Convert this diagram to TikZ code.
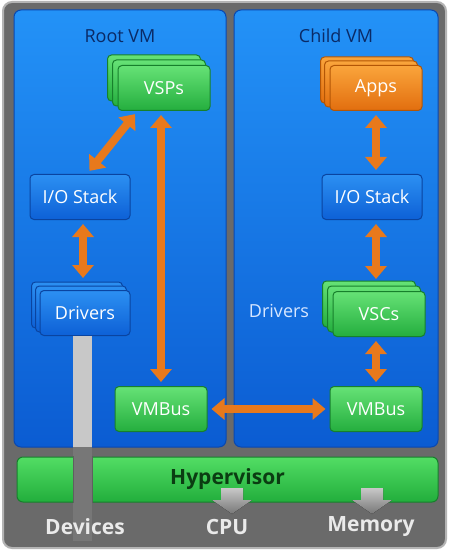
\documentclass[tikz,border=0pt]{standalone}
\usepackage{fontspec}
\setmainfont{Open Sans}
\usetikzlibrary{arrows.meta,calc}
\definecolor{frameg}{HTML}{6A6A6A}
\definecolor{framerim}{HTML}{B4B4B4}
\definecolor{panelT}{HTML}{2392F7}
\definecolor{panelB}{HTML}{0B5CD2}
\definecolor{panelD}{HTML}{0A48B0}
\definecolor{boxbT}{HTML}{2C90F2}
\definecolor{boxbB}{HTML}{0D60D6}
\definecolor{boxbD}{HTML}{0A44A0}
\definecolor{grT}{HTML}{66E276}
\definecolor{grB}{HTML}{24AE3E}
\definecolor{grD}{HTML}{17802C}
\definecolor{orT}{HTML}{FAA53C}
\definecolor{orB}{HTML}{E26E0E}
\definecolor{orD}{HTML}{B35606}
\definecolor{arrowO}{HTML}{E8791C}
\definecolor{navy}{HTML}{0A2A66}
\definecolor{hyperT}{HTML}{52DD64}
\definecolor{hyperB}{HTML}{22AE3C}
\definecolor{hyperTxt}{HTML}{0B3D12}
\definecolor{pipeL}{HTML}{C8C8C8}
\definecolor{pipeD}{HTML}{777777}
\definecolor{lighttxt}{HTML}{EAEAEA}
\definecolor{drvtxt}{HTML}{D6E6FF}
\pgfdeclarelayer{bg}
\pgfdeclarelayer{mid}
\pgfsetlayers{bg,mid,main}
\begin{document}
\begin{tikzpicture}[x=1pt,y=-1pt,
  panel/.style={rounded corners=7pt, top color=panelT, bottom color=panelB, draw=panelD, line width=1pt},
  box/.style={rounded corners=4pt, minimum width=92pt, minimum height=45pt, inner sep=0pt, line width=1pt, text=white, font=\fontsize{18}{20}\selectfont},
  bluebox/.style={box, top color=boxbT, bottom color=boxbB, draw=boxbD},
  greenbox/.style={box, top color=grT, bottom color=grB, draw=grD},
  orangebox/.style={box, top color=orT, bottom color=orB, draw=orD},
  layerblue/.style={rounded corners=4pt, top color=boxbT, bottom color=boxbB, draw=boxbD, line width=1pt},
  layergreen/.style={rounded corners=4pt, top color=grT, bottom color=grB, draw=grD, line width=1pt},
  layerorange/.style={rounded corners=4pt, top color=orT, bottom color=orB, draw=orD, line width=1pt},
  oarrow/.style={draw=arrowO, line width=8pt, {Triangle[width=21pt,length=13pt]}-{Triangle[width=21pt,length=13pt]}, shorten <=4pt, shorten >=4pt},
  garrow/.style={top color=pipeL, bottom color=pipeD, draw=none},
  title/.style={text=navy, font=\fontsize{18}{20}\selectfont},
  bottomtxt/.style={text=lighttxt, font=\bfseries\fontsize{21}{23}\selectfont}
]
\useasboundingbox (0,0) rectangle (451,553);
\begin{pgfonlayer}{bg}
\fill[white] (0,0) rectangle (451,553);
\draw[rounded corners=9pt, fill=frameg, draw=framerim, line width=2pt] (3,2) rectangle (446,548);
\draw[panel] (14,10) rectangle (226,447);
\draw[panel] (234,10) rectangle (438,447);
\end{pgfonlayer}

\node[title] (rootvm) at (120,36) {Root VM};
\node[title] (childvm) at (336,36) {Child VM};

% boxes
\node[greenbox] (vsp) at (164,88) {VSPs};
\node[orangebox] (apps) at (376,88) {Apps};
\node[bluebox, minimum width=100pt] (iol) at (80,197) {I/O Stack};
\node[bluebox, minimum width=100pt] (ior) at (372,197) {I/O Stack};
\node[bluebox, minimum width=90pt] (drvL) at (85,313) {Drivers};
\node[greenbox] (vsc) at (379,314) {VSCs};
\node[greenbox] (vmbL) at (161,409) {VMBus};
\node[greenbox] (vmbR) at (376,409) {VMBus};
\node[text=drvtxt, font=\fontsize{18}{20}\selectfont] (drvR) at (279,311) {Drivers};

% stacked back layers
\begin{pgfonlayer}{mid}
\draw[layergreen] ([shift={(-10,-10)}]vsp.south west) rectangle ([shift={(-10,-10)}]vsp.north east);
\draw[layergreen] ([shift={(-5,-5)}]vsp.south west) rectangle ([shift={(-5,-5)}]vsp.north east);
\draw[layerorange] ([shift={(-9,-8)}]apps.south west) rectangle ([shift={(-9,-8)}]apps.north east);
\draw[layerorange] ([shift={(-5,-4)}]apps.south west) rectangle ([shift={(-5,-4)}]apps.north east);
\draw[layerblue] ([shift={(-8,-8)}]drvL.south west) rectangle ([shift={(-8,-8)}]drvL.north east);
\draw[layerblue] ([shift={(-4,-4)}]drvL.south west) rectangle ([shift={(-4,-4)}]drvL.north east);
\draw[layergreen] ([shift={(-10,-10)}]vsc.south west) rectangle ([shift={(-10,-10)}]vsc.north east);
\draw[layergreen] ([shift={(-5,-5)}]vsc.south west) rectangle ([shift={(-5,-5)}]vsc.north east);
\fill[pipeD] ([xshift=-12pt]drvL.south) rectangle ([xshift=7pt,yshift=-205pt]drvL.south);
\end{pgfonlayer}

% hypervisor
\node[rounded corners=6pt, top color=hyperT, bottom color=hyperB, draw=grD, line width=1pt,
      minimum width=421pt, minimum height=45pt, inner sep=0pt,
      text=hyperTxt, font=\bfseries\fontsize{21}{23}\selectfont] (hyp) at (227.5,479.5) {Hypervisor};
% pipe over the panel part and through the hypervisor
\fill[pipeL] ([xshift=-12pt]drvL.south) rectangle (92,447);
\fill[pipeD] (73,456) rectangle (92,503);
\draw[pipeD!80!black, line width=0.6pt] (73,456) -- (73,503) (92,456) -- (92,503);

% gray arrows
\fill[garrow] (221,488) -- (243,488) -- (243,500) -- (252,500) -- (232,514) -- (212,500) -- (221,500) -- cycle;
\fill[garrow] (361,488) -- (383,488) -- (383,500) -- (392,500) -- (372,514) -- (352,500) -- (361,500) -- cycle;

% bottom labels
\node[bottomtxt] (devices) at (85,527) {Devices};
\node[bottomtxt] (cpu) at (227,527) {CPU};
\node[bottomtxt] (memory) at (371,527) {Memory};

% orange arrows
\draw[oarrow] ([xshift=20pt]vsp.south west) -- ([xshift=7pt]iol.north);
\draw[oarrow] (vsp.south -| vmbL.north) -- (vmbL.north);
\draw[oarrow, shorten >=12pt] ([xshift=3pt]iol.south) -- ([xshift=3pt]iol.south |- drvL.north);
\draw[oarrow] (apps.south) -- (apps.south |- ior.north);
\draw[oarrow, shorten >=12pt] (ior.south -| apps.south) -- (vsc.north -| apps.south);
\draw[oarrow] (vsc.south -| apps.south) -- (vmbR.north -| apps.south);
\draw[oarrow] (vmbL.east) -- (vmbR.west);
\end{tikzpicture}
\end{document}
